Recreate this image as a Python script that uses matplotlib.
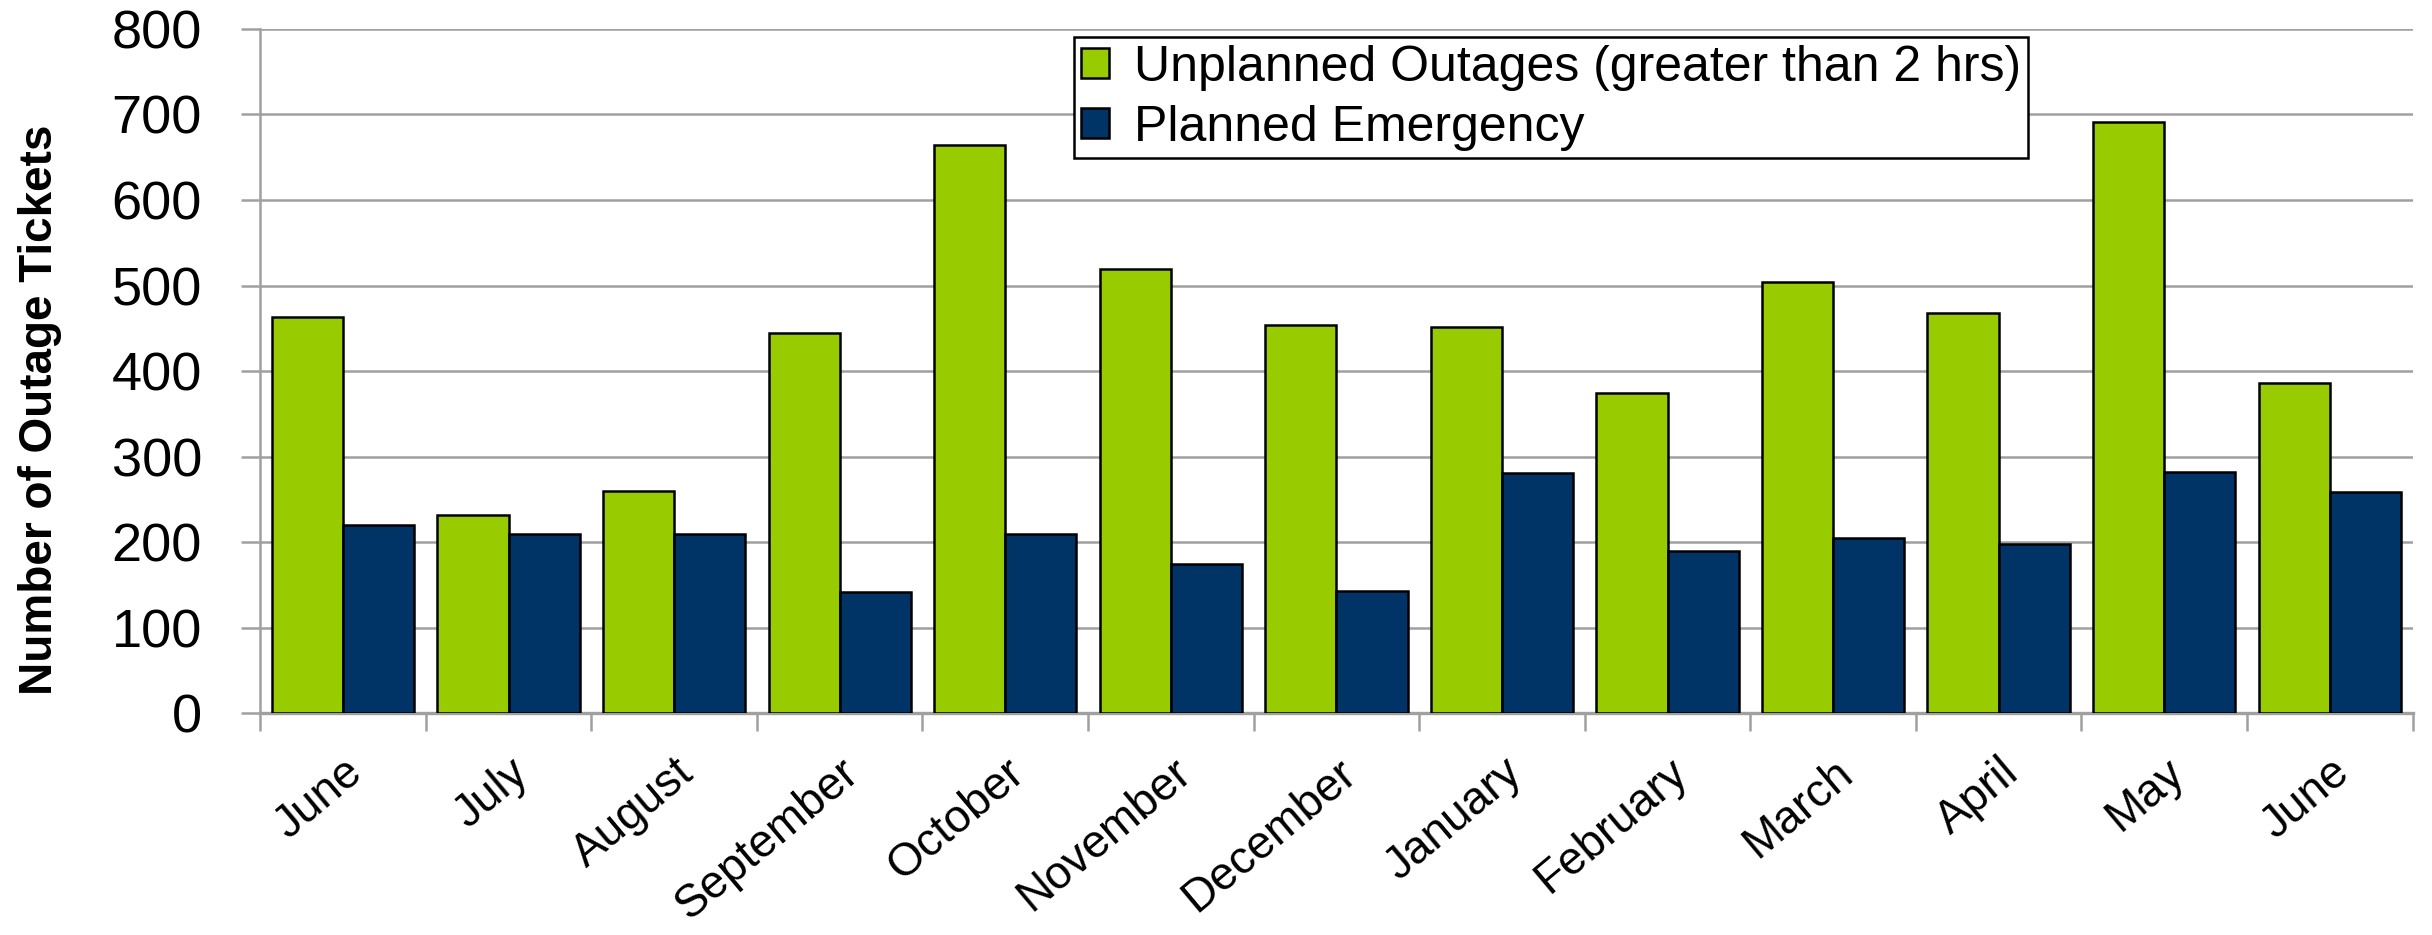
import matplotlib
matplotlib.use("Agg")
import matplotlib.pyplot as plt
import matplotlib.transforms as mtransforms
import numpy as np

months = ["June", "July", "August", "September", "October", "November", "December",
          "January", "February", "March", "April", "May", "June"]
unplanned = [463, 232, 260, 445, 664, 519, 454, 452, 374, 504, 468, 691, 386]
planned = [220, 209, 209, 142, 209, 174, 143, 281, 189, 205, 198, 282, 259]
yticks = [0, 100, 200, 300, 400, 500, 600, 700, 800]

plt.rcParams['font.family'] = ['Liberation Sans', 'DejaVu Sans']

fig = plt.figure(figsize=(24.32, 9.35), dpi=100)
ax = fig.add_axes([0.107, 0.2374, 0.885, 0.7316])

x = np.arange(len(months))
w = 0.43
ax.bar(x - w/2, unplanned, width=w, color="#99CC00", edgecolor="black", linewidth=1.8,
       label="Unplanned Outages (greater than 2 hrs)", zorder=3)
ax.bar(x + w/2, planned, width=w, color="#003366", edgecolor="black", linewidth=1.8,
       label="Planned Emergency", zorder=3)

ax.set_xlim(-0.5, len(months) - 0.5)
ax.set_ylim(0, 800)
ax.set_yticks(yticks)
ax.set_yticklabels([str(v) for v in yticks], fontsize=39)
ax.yaxis.grid(True, color="#A0A0A0", linewidth=1.8, zorder=0)
ax.set_axisbelow(True)

# x ticks at group boundaries, labels at centers
ax.set_xticks(np.arange(-0.5, len(months) + 0.5, 1.0))
ax.set_xticklabels([])
ax.set_xticks(x, minor=True)
labels = ax.set_xticklabels(months, minor=True, rotation=40, ha="right", va="top",
                            rotation_mode="anchor", fontsize=33)
offset = mtransforms.ScaledTranslation(-0.08, 0.0, fig.dpi_scale_trans)
for lab in labels:
    lab.set_transform(lab.get_transform() + offset)
ax.tick_params(axis="x", which="major", length=13, width=1.8, color="#A0A0A0")
ax.tick_params(axis="x", which="minor", length=0, pad=27)
ax.tick_params(axis="y", length=14, width=1.8, color="#A0A0A0", pad=28)

for s in ["top", "right"]:
    ax.spines[s].set_visible(False)
ax.spines["left"].set_color("#A0A0A0")
ax.spines["left"].set_linewidth(1.8)
ax.spines["bottom"].set_color("#A0A0A0")
ax.spines["bottom"].set_linewidth(2.4)

ax.set_ylabel("Number of Outage Tickets", fontsize=33, fontweight="bold")
ax.yaxis.set_label_coords(-0.092, 0.443)

leg = ax.legend(loc="upper left", bbox_to_anchor=(0.378, 0.988),
                prop={"size": 36},
                frameon=True, fancybox=False, edgecolor="black", framealpha=1,
                handlelength=0.55, handleheight=0.55, handletextpad=0.5,
                borderpad=0.15, labelspacing=0.28, borderaxespad=0)
leg.get_frame().set_linewidth(1.8)

fig.savefig("out.png", dpi=100)
